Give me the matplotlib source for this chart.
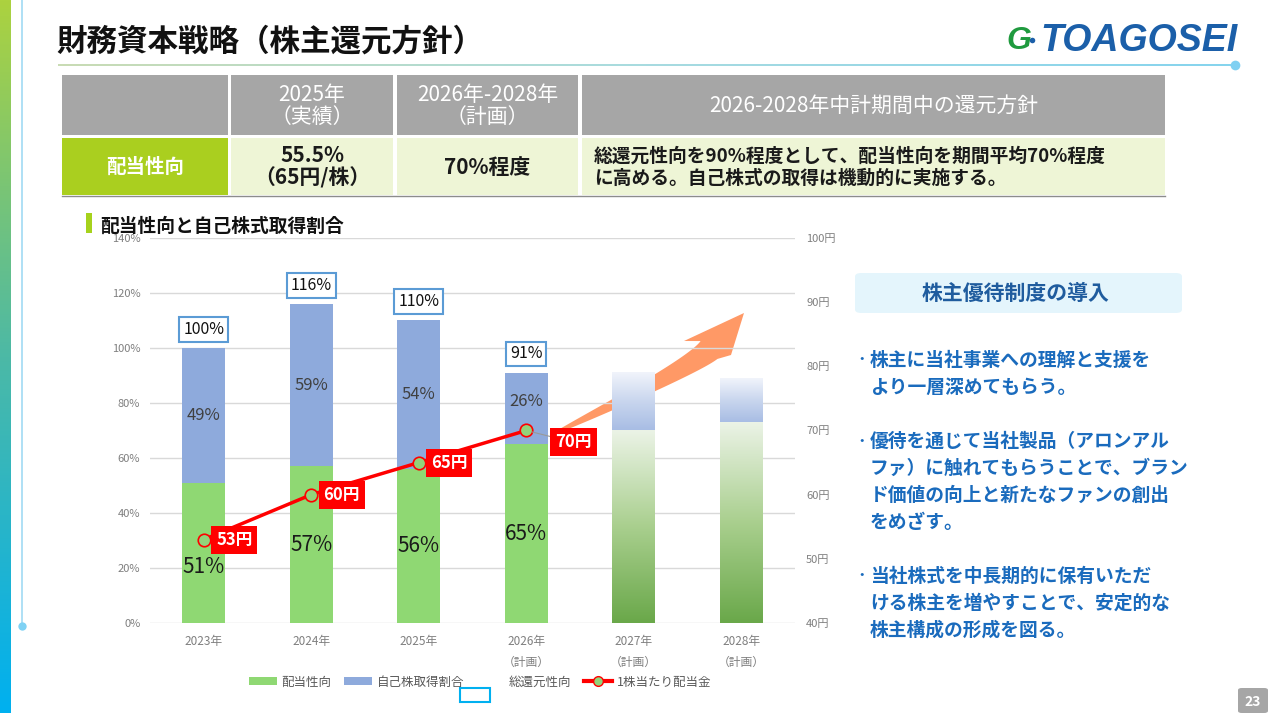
import numpy as np
import matplotlib
matplotlib.use("Agg")
import matplotlib.pyplot as plt
from matplotlib.patches import Rectangle, FancyBboxPatch, Polygon, Patch
from matplotlib.lines import Line2D
from matplotlib.colors import LinearSegmentedColormap

plt.rcParams['font.family'] = ['Noto Sans CJK JP', 'DejaVu Sans']

# --- data ---
years = ['2023年', '2024年', '2025年', '2026年\n（計画）', '2027年\n（計画）', '2028年\n（計画）']
payout = [51, 57, 56, 65]          # 配当性向 (%)
buyback = [49, 59, 54, 26]         # 自己株取得割合 (%)
total = [100, 116, 110, 91]        # 総還元性向 (%)
plan_payout = [70, 73]             # 2027-2028年 配当性向(イメージ)
plan_total = [91, 89]              # 2027-2028年 総還元性向(イメージ)
dps = [53, 60, 65, 70]             # 1株当たり配当金 (円)

left_ticks = [0, 20, 40, 60, 80, 100, 120, 140]
right_ticks = [40, 50, 60, 70, 80, 90, 100]

legend_labels = ['配当性向', '自己株取得割合', '総還元性向', '1株当たり配当金']

head_row = ['', '2025年\n（実績）', '2026年-2028年\n（計画）', '2026-2028年中計期間中の還元方針']
body_row = ['配当性向', '55.5%\n（65円/株）', '70%程度',
            '総還元性向を90%程度として、配当性向を期間平均70%程度\nに高める。自己株式の取得は機動的に実施する。']

bullets = [
    ['株主に当社事業への理解と支援を', 'より一層深めてもらう。'],
    ['優待を通じて当社製品（アロンアル', 'ファ）に触れてもらうことで、ブラン', 'ド価値の向上と新たなファンの創出', 'をめざす。'],
    ['当社株式を中長期的に保有いただ', 'ける株主を増やすことで、安定的な', '株主構成の形成を図る。'],
]

GREEN = '#8fd873'
BLUE = '#8eaadc'
GRAY_TXT = '#7f7f7f'

W, H = 1270, 713
fig = plt.figure(figsize=(W / 100, H / 100), dpi=100)
fig.patch.set_facecolor('white')


def fx(x):
    return x / W


def fy(y):
    return 1 - y / H


def box(x0, y0, x1, y1, color):
    fig.add_artist(Rectangle((fx(x0), fy(y1)), (x1 - x0) / W, (y1 - y0) / H,
                             transform=fig.transFigure, fc=color, ec='none'))


# left stripe + thin line
sax = fig.add_axes([0, 0, 11 / W, 1])
stripe = LinearSegmentedColormap.from_list('s', ['#acd23f', '#4cb9a6', '#00b0f0'])
sax.imshow(np.linspace(0, 1, 256)[:, None], aspect='auto', cmap=stripe)
sax.axis('off')
fig.add_artist(Line2D([fx(22), fx(22)], [fy(0), fy(626)], color='#a8ddf4', lw=1.3))
fig.add_artist(Line2D([fx(22)], [fy(626)], marker='o', ms=6, color='#7fd2f4', mec='none'))

# title
fig.text(fx(56), fy(42), '財務資本戦略（株主還元方針）', fontsize=22, weight='bold', color='#111111', va='center')
lax = fig.add_axes([fx(58), fy(66), (1234 - 58) / W, 2 / H])
uline = LinearSegmentedColormap.from_list('u', ['#c9dcb4', '#a8dbe0', '#86d4ee'])
lax.imshow(np.linspace(0, 1, 256)[None, :], aspect='auto', cmap=uline)
lax.axis('off')
fig.add_artist(Line2D([fx(1235)], [fy(65)], marker='o', ms=7, color='#7fd0f2', mec='none'))

# logo
fig.text(fx(1006), fy(41), 'G', fontsize=23, style='italic', weight='bold', color='#1f9a3e',
         family='Liberation Sans', va='center')
fig.add_artist(Line2D([fx(1032)], [fy(40)], marker='o', ms=4, color='#1b5fa9', mec='none'))
fig.text(fx(1040), fy(41), 'TOAGOSEI', fontsize=27, style='italic', weight='bold', color='#1b5fa9',
         family='Liberation Sans', va='center')

# table
cols = [(62, 228), (231, 393), (397, 578), (582, 1165)]
for i, (c0, c1) in enumerate(cols):
    box(c0, 75, c1, 135, '#a6a6a6')
    box(c0, 138, c1, 195, '#aacf1f' if i == 0 else '#eef5d6')
    cx = (c0 + c1) / 2
    if head_row[i]:
        fig.text(fx(cx), fy(106), head_row[i], ha='center', va='center', color='white',
                 fontsize=15, linespacing=1.0, ma='center')
    if i == 0:
        fig.text(fx(cx), fy(167), body_row[i], ha='center', va='center', color='white',
                 fontsize=14, weight='bold')
    elif i < 3:
        fig.text(fx(cx), fy(167), body_row[i], ha='center', va='center', color='#1a1a1a',
                 fontsize=15, weight='bold', linespacing=1.05, ma='center')
    else:
        fig.text(fx(594), fy(167), body_row[i], ha='left', va='center', color='#1a1a1a',
                 fontsize=13.5, weight='bold', linespacing=1.2)
fig.add_artist(Line2D([fx(62), fx(1165)], [fy(196), fy(196)], color='#8c8c8c', lw=1))

# subtitle
box(86, 213, 92, 233, '#a6d21c')
fig.text(fx(100), fy(226), '配当性向と自己株式取得割合', fontsize=13.5, weight='bold', color='#111111', va='center')

# chart
ax = fig.add_axes([fx(150), fy(623), 645 / W, 385 / H])
x = np.arange(len(payout))
bw = 0.4
ax.bar(x, payout, width=bw, color=GREEN, zorder=2)
ax.bar(x, buyback, width=bw, bottom=payout, color=BLUE, zorder=2)

gcm = LinearSegmentedColormap.from_list('g', ['#6aa84a', '#a9cf8e', '#ebf3e6'])
bcm = LinearSegmentedColormap.from_list('b', ['#a8bde4', '#c9d6ee', '#f1f4fb'])
grad = np.linspace(0, 1, 200)[:, None]
for j in range(len(plan_payout)):
    xc = len(payout) + j
    ax.imshow(grad, extent=[xc - bw / 2, xc + bw / 2, 0, plan_payout[j]], origin='lower',
              aspect='auto', cmap=gcm, zorder=2)
    ax.imshow(grad, extent=[xc - bw / 2, xc + bw / 2, plan_payout[j], plan_total[j]], origin='lower',
              aspect='auto', cmap=bcm, zorder=2)

shift = [-5, 0, 0, 0]
for i in x:
    ax.text(i, payout[i] / 2 + shift[i], f'{payout[i]}%', ha='center', va='center', fontsize=15, color='#1a1a1a')
    ax.text(i, payout[i] + buyback[i] / 2 + (2.5 if i == 3 else 0), f'{buyback[i]}%', ha='center',
            va='center', fontsize=12, color='#404040')
    ax.annotate(f'{total[i]}%', (i, total[i]), xytext=(0, 13.5), textcoords='offset points',
                ha='center', va='center', fontsize=11.5, color='#111111',
                bbox=dict(boxstyle='square,pad=0.25', fc='white', ec='#5b9bd5', lw=1.5))

ax.set_xlim(-0.5, len(years) - 0.5)
ax.set_ylim(0, 140)
ax.set_yticks(left_ticks)
ax.set_yticklabels([f'{v}%' for v in left_ticks])
ax.set_xticks(range(len(years)))
ax.set_xticklabels(years, linespacing=1.7)
ax.grid(axis='y', color='#d9d9d9', lw=1)
ax.set_axisbelow(True)
ax.tick_params(axis='y', length=0, pad=7, labelsize=8, labelcolor=GRAY_TXT)
ax.tick_params(axis='x', length=0, pad=9, labelsize=8.5, labelcolor=GRAY_TXT)
for s in ax.spines.values():
    s.set_visible(False)

# orange growth arrow (decoration), built in pixel space
S, C, B = np.array([555., 433.]), np.array([690., 368.]), np.array([709., 350.])
t = np.linspace(0, 1, 80)[:, None]
pts = (1 - t) ** 2 * S + 2 * (1 - t) * t * C + t ** 2 * B
der = 2 * (1 - t) * (C - S) + 2 * t * (B - C)
der /= np.linalg.norm(der, axis=1, keepdims=True)
nrm = np.column_stack([der[:, 1], -der[:, 0]])
hw = 0.8 + 11.5 * t[:, 0] ** 0.7
upper = pts + nrm * hw[:, None]
lower = pts - nrm * hw[:, None]
head = np.array([[684., 341.], [744., 313.], [731., 355.]])
outline = np.vstack([upper, head, lower[::-1]])
outline = np.column_stack([fx(outline[:, 0]), fy(outline[:, 1])])
ax.add_patch(Polygon(outline, closed=True, transform=fig.transFigure, fc='#ff9966', ec='none',
                     zorder=0.4, clip_on=False))

ax2 = ax.twinx()
ax2.plot(x, dps, color='#ff0000', lw=2.5, marker='o', ms=9, mfc='#92d37a', mec='#ff0000', mew=1.2, zorder=5)
for i in x:
    if i < 3:
        ax2.annotate(f'{dps[i]}円', (i, dps[i]), xytext=(22, 0), textcoords='offset points',
                     ha='center', va='center', fontsize=12, weight='bold', color='white', zorder=7,
                     bbox=dict(boxstyle='square,pad=0.3', fc='#ff0000', ec='none'))
    else:
        ax2.annotate(f'{dps[i]}円', (i, dps[i]), xytext=(34, -8.5), textcoords='offset points',
                     ha='center', va='center', fontsize=12, weight='bold', color='white', zorder=7,
                     bbox=dict(boxstyle='square,pad=0.3', fc='#ff0000', ec='none'),
                     arrowprops=dict(arrowstyle='-', color='#999999', lw=0.8, shrinkA=0, shrinkB=4))
ax2.set_ylim(40, 100)
ax2.set_yticks(right_ticks)
ax2.set_yticklabels([f'{v}円' for v in right_ticks])
ax2.tick_params(axis='y', length=0, pad=8, labelsize=8, labelcolor=GRAY_TXT)
for s in ax2.spines.values():
    s.set_visible(False)

handles = [Patch(fc=GREEN), Patch(fc=BLUE), Patch(fc='none', ec='none'),
           Line2D([], [], color='#ff0000', lw=3, marker='o', ms=7, mfc='#92d37a', mec='#ff0000')]
fig.legend(handles, legend_labels, loc='center', bbox_to_anchor=(fx(480), fy(682)), ncol=4,
           frameon=False, fontsize=9, labelcolor='#595959', handlelength=2.2, handleheight=0.6,
           columnspacing=1.0, handletextpad=0.4)
fig.add_artist(Rectangle((fx(460), fy(702)), 30 / W, 14 / H, transform=fig.transFigure,
                         fc='none', ec='#00b0f0', lw=1.5))

# right panel
fig.add_artist(FancyBboxPatch((fx(855), fy(313)), 327 / W, 40 / H, transform=fig.transFigure,
                              boxstyle='round,pad=0,rounding_size=0.005', fc='#e4f5fc', ec='none'))
fig.text(fx(1016), fy(293), '株主優待制度の導入', ha='center', va='center', fontsize=15,
         weight='bold', color='#1f5c9e')
starts = [360, 441, 576]
for y0, lines in zip(starts, bullets):
    fig.text(fx(855), fy(y0), '・', fontsize=9, weight='bold', color='#1a6bbd', va='center')
    for k, line in enumerate(lines):
        fig.text(fx(870), fy(y0 + k * 27.3), line, fontsize=13.5, weight='bold', color='#1a6bbd', va='center')

# page number
fig.add_artist(FancyBboxPatch((fx(1238), fy(713)), 30 / W, 25 / H, transform=fig.transFigure,
                              boxstyle='round,pad=0,rounding_size=0.003', fc='#a6a6a6', ec='none'))
fig.text(fx(1253), fy(702), '23', ha='center', va='center', fontsize=10, weight='bold', color='white')

fig.savefig('out.png', dpi=100)
